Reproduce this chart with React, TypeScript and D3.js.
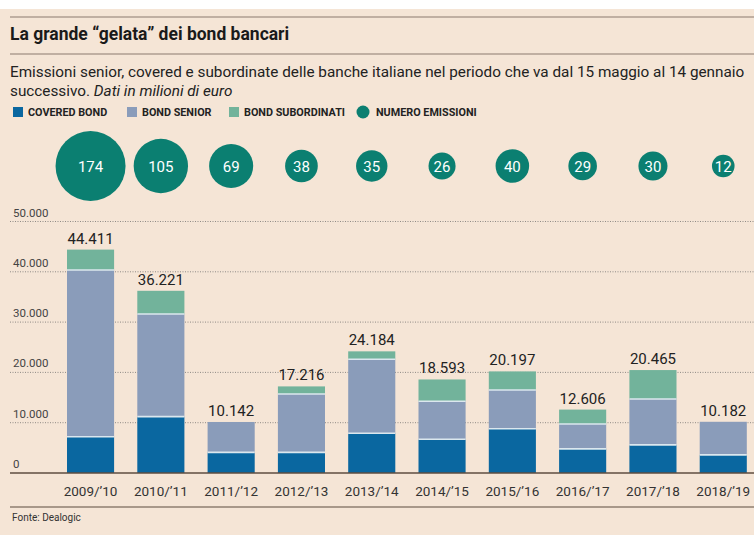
import React from "react";
import * as d3 from "d3";

const categories = ["2009/’10", "2010/’11", "2011/’12", "2012/’13", "2013/’14", "2014/’15", "2015/’16", "2016/’17", "2017/’18", "2018/’19"];
const coveredBond = [7200, 11200, 4100, 4100, 7900, 6700, 8800, 4800, 5600, 3600];
const bondSenior = [33150, 20400, 6042, 11600, 14700, 7550, 7700, 4940, 9100, 6582];
const bondSubordinati = [4061, 4621, 0, 1516, 1584, 4343, 3697, 2866, 5765, 0];
const numeroEmissioni = [174, 105, 69, 38, 35, 26, 40, 29, 30, 12];
const yTicks = [0, 10000, 20000, 30000, 40000, 50000];

const W = 754;
const H = 535;
const BG = "#f5e5d6";
const C_COVERED = "#0a67a0";
const C_SENIOR = "#8a9cba";
const C_SUB = "#72b39b";
const C_BUBBLE = "#0b7f71";
const FONT = "Roboto, 'Noto Sans', sans-serif";

const fmt = (v: number) => d3.format(",")(v).replace(/,/g, ".");

export default function App() {
  const x = d3.scaleBand<string>().domain(categories).range([55.4, 758.4]).paddingInner(0.33).paddingOuter(0.165);
  const y = d3.scaleLinear().domain([0, 50000]).range([473, 221.5]);
  const r = d3.scaleSqrt().domain([0, 174]).range([0, 35]);
  const radius = (n: number) => Math.max(r(n), 11.3);
  const bubbleY = 166;

  const rows = categories.map((c, i) => {
    const a = coveredBond[i];
    const b = bondSenior[i];
    const s = bondSubordinati[i];
    return { c, segs: [
      { y0: 0, y1: a, color: C_COVERED },
      { y0: a, y1: a + b, color: C_SENIOR },
      { y0: a + b, y1: a + b + s, color: C_SUB },
    ].filter((d) => d.y1 > d.y0), total: a + b + s };
  });

  const legend = [
    { label: "COVERED BOND", color: C_COVERED, x: 13, type: "rect" },
    { label: "BOND SENIOR", color: C_SENIOR, x: 127, type: "rect" },
    { label: "BOND SUBORDINATI", color: C_SUB, x: 229, type: "rect" },
    { label: "NUMERO EMISSIONI", color: C_BUBBLE, x: 357, type: "circle" },
  ];

  return (
    <div style={{ position: "absolute", left: 0, top: 0 }}>
      <svg width={W} height={H} style={{ display: "block", fontFamily: FONT }}>
        <rect x={0} y={0} width={W} height={H} fill="#ffffff" />
        <rect x={0} y={9} width={W} height={H - 9} fill={BG} />
        <line x1={10} x2={W} y1={17} y2={17} stroke="#8c7b6e" strokeWidth={1.2} />
        <text x={10} y={40} fontSize={17.5} fontWeight={700} fill="#1a1a1a">La grande “gelata” dei bond bancari</text>
        <line x1={10} x2={W} y1={54} y2={54} stroke="#8c7b6e" strokeWidth={1.2} />
        <text x={10} y={77} fontSize={15.3} fill="#222">Emissioni senior, covered e subordinate delle banche italiane nel periodo che va dal 15 maggio al 14 gennaio</text>
        <text x={10} y={96} fontSize={15.3} fill="#222">successivo. <tspan fontStyle="italic">Dati in milioni di euro</tspan></text>

        {legend.map((l) => (
          <g key={l.label}>
            {l.type === "rect" ? (
              <rect x={l.x} y={107} width={10} height={10} fill={l.color} />
            ) : (
              <circle cx={l.x + 6} cy={112} r={6.5} fill={l.color} />
            )}
            <text x={l.x + (l.type === "rect" ? 15 : 19)} y={116} fontSize={10.8} fontWeight={700} fill="#222">{l.label}</text>
          </g>
        ))}

        {categories.map((c, i) => (
          <g key={"b" + c}>
            <circle cx={x(c)! + x.bandwidth() / 2} cy={bubbleY} r={radius(numeroEmissioni[i])} fill={C_BUBBLE} />
            <text x={x(c)! + x.bandwidth() / 2} y={bubbleY + 5.5} textAnchor="middle" fontSize={15} fill="#fff">{numeroEmissioni[i]}</text>
          </g>
        ))}

        {yTicks.filter((t) => t > 0).map((t) => (
          <line key={"g" + t} x1={10} x2={W} y1={y(t)} y2={y(t)} stroke="#8f8a86" strokeWidth={1} strokeDasharray="1,1.5" />
        ))}
        {yTicks.map((t) => (
          <text key={"t" + t} x={13} y={y(t) - 5} fontSize={11.5} fill="#444">{t === 0 ? "0" : fmt(t)}</text>
        ))}

        {rows.map((row) => (
          <g key={"bar" + row.c}>
            {row.segs.map((s, j) => (
              <rect key={j} x={x(row.c)!} y={y(s.y1)} width={x.bandwidth()} height={y(s.y0) - y(s.y1)} fill={s.color} />
            ))}
            {row.segs.slice(1).map((s, j) => (
              <line key={"sep" + j} x1={x(row.c)!} x2={x(row.c)! + x.bandwidth()} y1={y(s.y0)} y2={y(s.y0)} stroke="#dbe7ee" strokeWidth={1.6} />
            ))}
            <text x={x(row.c)! + x.bandwidth() / 2} y={y(row.total) - 6} textAnchor="middle" fontSize={15} fill="#222">{fmt(row.total)}</text>
            <text x={x(row.c)! + x.bandwidth() / 2} y={496} textAnchor="middle" fontSize={13.5} fill="#333">{row.c}</text>
          </g>
        ))}

        <line x1={10} x2={W} y1={y(0)} y2={y(0)} stroke="#5e4c40" strokeWidth={1.5} />
        <line x1={10} x2={W} y1={507} y2={507} stroke="#a8988a" strokeWidth={2} />
        <text x={12} y={521} fontSize={10} fill="#333">Fonte: Dealogic</text>
      </svg>
    </div>
  );
}
